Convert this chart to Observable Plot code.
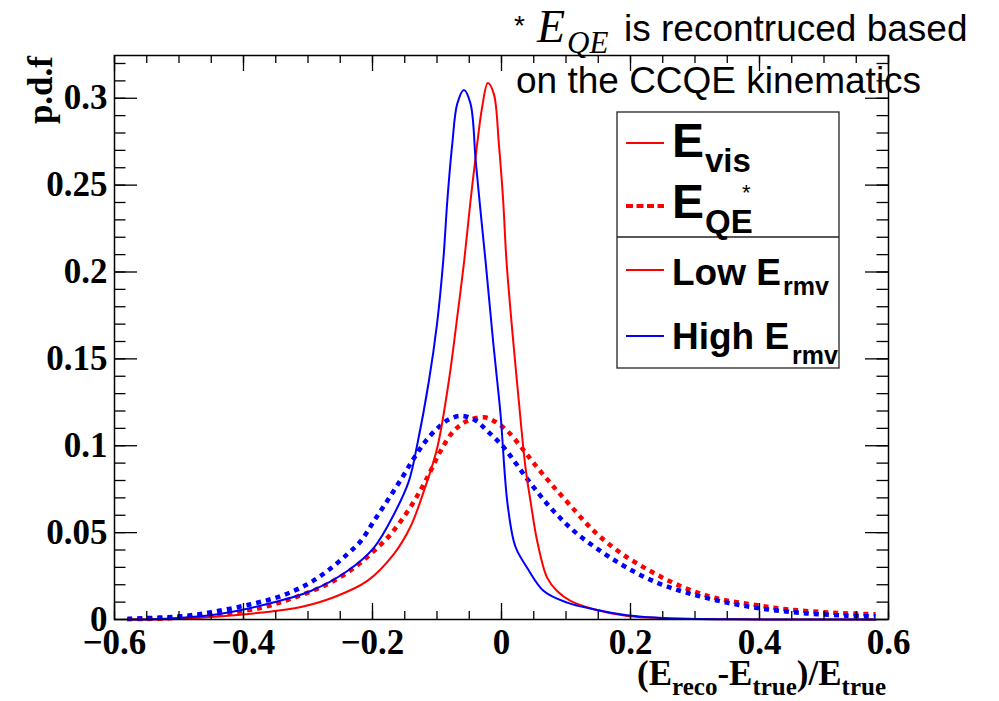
<!DOCTYPE html>
<html><head><meta charset="utf-8">
<script src="https://cdn.jsdelivr.net/npm/d3@7"></script>
<script src="https://cdn.jsdelivr.net/npm/@observablehq/plot@0.6"></script>
<style>
html,body{margin:0;padding:0;background:#fff;}
#chart{width:999px;height:701px;overflow:hidden;}
</style></head><body><div id="chart"></div>
<script>
// ---- data ----
const redSolidX = [-0.58,-0.517,-0.46,-0.414,-0.36,-0.311,-0.26,-0.208,-0.167,-0.141,-0.118,-0.0995,-0.0816,-0.07,-0.0578,-0.048,-0.0377,-0.030,-0.0212,-0.0119,-0.0041,0.0026,0.0077,0.017,0.0268,0.0372,0.0449,0.0553,0.0707,0.0862,0.107,0.143,0.195,0.257,0.36,0.58];
const redSolidY = [0.0,0.0002,0.0012,0.0025,0.0045,0.0072,0.0128,0.0222,0.0376,0.0535,0.0765,0.099,0.1374,0.17,0.2065,0.241,0.2737,0.2948,0.3088,0.3025,0.2737,0.241,0.2065,0.165,0.1259,0.0874,0.0683,0.0452,0.0241,0.0164,0.0107,0.0059,0.002,0.0007,0.0001,0.0];

const blueSolidX = [-0.58,-0.543,-0.49,-0.44,-0.3645,-0.2957,-0.239,-0.1977,-0.1667,-0.1435,-0.1305,-0.1125,-0.10,-0.0903,-0.084,-0.0763,-0.0686,-0.0583,-0.048,-0.040,-0.0325,-0.0248,-0.013,-0.0067,-0.0015,0.0088,0.019,0.0243,0.0397,0.0655,0.1017,0.143,0.1946,0.2565,0.36,0.58];
const blueSolidY = [0.0,0.0002,0.0012,0.0030,0.0088,0.0164,0.0279,0.0414,0.0606,0.0798,0.1009,0.1374,0.17,0.2065,0.241,0.2737,0.2968,0.3048,0.2968,0.264,0.235,0.2065,0.16,0.1374,0.1182,0.0683,0.045,0.0395,0.0298,0.0164,0.0097,0.0059,0.0024,0.0007,0.0001,0.0];

const blueDotX = [-0.58,-0.492,-0.44,-0.3885,-0.342,-0.301,-0.270,-0.239,-0.218,-0.1977,-0.177,-0.156,-0.138,-0.120,-0.0995,-0.08,-0.0609,-0.04,-0.0222,0.0036,0.0397,0.0759,0.112,0.153,0.1946,0.241,0.2874,0.3494,0.411,0.473,0.535,0.58];
const blueDotY = [0.0004,0.002,0.0049,0.0088,0.0135,0.0203,0.0279,0.0376,0.0452,0.0567,0.0683,0.0805,0.0915,0.1015,0.1100,0.1155,0.1172,0.1145,0.1086,0.099,0.081,0.0644,0.051,0.0395,0.0298,0.0212,0.0154,0.0097,0.0059,0.0035,0.0022,0.0018];

const redDotX = [-0.58,-0.5175,-0.44,-0.373,-0.3215,-0.270,-0.2286,-0.1977,-0.1718,-0.146,-0.1254,-0.1099,-0.0944,-0.0738,-0.0531,-0.0274,-0.0119,0.0088,0.032,0.05,0.0759,0.107,0.143,0.184,0.2307,0.277,0.329,0.385,0.442,0.514,0.58];
const redDotY = [0.0002,0.0007,0.003,0.0068,0.0126,0.0203,0.0298,0.0395,0.0491,0.062,0.0745,0.0855,0.0971,0.1086,0.1143,0.1164,0.1143,0.1086,0.0985,0.090,0.0785,0.0655,0.051,0.0385,0.0279,0.0193,0.0126,0.0088,0.0059,0.0039,0.003];

const xTickValues = [-0.6,-0.4,-0.2,0,0.2,0.4,0.6];
const xTickLabels = ["\u22120.6","\u22120.4","\u22120.2","0","0.2","0.4","0.6"];
const yTickValues = [0,0.05,0.1,0.15,0.2,0.25,0.3];
const yTickLabels = ["0","0.05","0.1","0.15","0.2","0.25","0.3"];
const xMinorValues = d3.range(-12, 13).map(i => +(i * 0.05).toFixed(2));
const yMinorValues = d3.range(0, 33).map(i => +(i * 0.01).toFixed(2));

const RED = "#ff0000", BLUE = "#0000ff";
const XMIN = -0.6, XMAX = 0.6, YMAX = 0.3246;
const W = 999, H = 701, ML = 114, MR = 111, MT = 55, MB = 82;
const pxX = (XMAX - XMIN) / (W - ML - MR);   // data per px (x)
const pxY = YMAX / (H - MT - MB);             // data per px (y)

const toRows = (xs, ys) => xs.map((x, i) => ({x, y: ys[i]}));
const serif = "'Liberation Serif','Times New Roman',serif";
const sans = "'Liberation Sans',Arial,Helvetica,sans-serif";

const xMajLen = 16 * pxY, xMinLen = 8 * pxY;
const yMajLen = 23 * pxX, yMinLen = 11.5 * pxX;
const DOT = "5,5";

const chart = Plot.plot({
  width: W, height: H,
  marginLeft: ML, marginRight: MR, marginTop: MT, marginBottom: MB,
  x: {domain: [XMIN, XMAX], axis: null},
  y: {domain: [0, YMAX], axis: null},
  style: {background: "white"},
  marks: [
    Plot.line(toRows(redDotX, redDotY), {x: "x", y: "y", stroke: RED, strokeWidth: 4.5, strokeDasharray: DOT, strokeLinecap: "butt", curve: "catmull-rom"}),
    Plot.line(toRows(blueDotX, blueDotY), {x: "x", y: "y", stroke: BLUE, strokeWidth: 4.5, strokeDasharray: DOT, strokeLinecap: "butt", curve: "catmull-rom"}),
    Plot.line(toRows(redSolidX, redSolidY), {x: "x", y: "y", stroke: RED, strokeWidth: 2, curve: "catmull-rom"}),
    Plot.line(toRows(blueSolidX, blueSolidY), {x: "x", y: "y", stroke: BLUE, strokeWidth: 2, curve: "catmull-rom"}),
    // ticks (inward, all four sides)
    Plot.ruleX(xMinorValues, {x: d => d, y1: 0, y2: xMinLen, stroke: "black", strokeWidth: 1.3}),
    Plot.ruleX(xMinorValues, {x: d => d, y1: YMAX, y2: YMAX - xMinLen, stroke: "black", strokeWidth: 1.3}),
    Plot.ruleX(xTickValues, {x: d => d, y1: 0, y2: xMajLen, stroke: "black", strokeWidth: 1.3}),
    Plot.ruleX(xTickValues, {x: d => d, y1: YMAX, y2: YMAX - xMajLen, stroke: "black", strokeWidth: 1.3}),
    Plot.ruleY(yMinorValues, {y: d => d, x1: XMIN, x2: XMIN + yMinLen, stroke: "black", strokeWidth: 1.3}),
    Plot.ruleY(yMinorValues, {y: d => d, x1: XMAX, x2: XMAX - yMinLen, stroke: "black", strokeWidth: 1.3}),
    Plot.ruleY(yTickValues, {y: d => d, x1: XMIN, x2: XMIN + yMajLen, stroke: "black", strokeWidth: 1.3}),
    Plot.ruleY(yTickValues, {y: d => d, x1: XMAX, x2: XMAX - yMajLen, stroke: "black", strokeWidth: 1.3}),
    Plot.frame({stroke: "black", strokeWidth: 1.5}),
    // tick labels
    Plot.text(xTickValues, {x: d => d, y: 0, text: (d, i) => xTickLabels[i], dy: 23, fontSize: 35, fontWeight: "bold", fontFamily: serif, fill: "black"}),
    Plot.text(yTickValues, {x: XMIN, y: d => d, text: (d, i) => yTickLabels[i], dx: -7, textAnchor: "end", fontSize: 35, fontWeight: "bold", fontFamily: serif, fill: "black"})
  ]
});
document.getElementById("chart").appendChild(chart);

const svg = d3.select(chart);
const g = svg.append("g").attr("class", "annotations").attr("text-anchor", "start");

// axis titles
const xt = g.append("text").attr("x", 886).attr("y", 685).attr("text-anchor", "end")
  .style("font-family", serif).style("font-weight", "bold").style("font-size", "35px").attr("fill", "black");
xt.append("tspan").text("(E");
xt.append("tspan").text("reco").attr("dy", 10).style("font-size", "25px");
xt.append("tspan").text("-E").attr("dy", -10);
xt.append("tspan").text("true").attr("dy", 10).style("font-size", "25px");
xt.append("tspan").text(")/E").attr("dy", -10);
xt.append("tspan").text("true").attr("dy", 10).style("font-size", "25px");

g.append("text").attr("transform", "translate(52,56) rotate(-90)").attr("text-anchor", "end")
  .style("font-family", serif).style("font-weight", "bold").style("font-size", "35px").attr("fill", "black").text("p.d.f");

// top annotation
g.append("text").attr("x", 514).attr("y", 35).style("font-family", sans).style("font-size", "28px").text("*");
g.append("text").attr("x", 537).attr("y", 42).style("font-family", serif).style("font-style", "italic").style("font-size", "46px").text("E");
g.append("text").attr("x", 567).attr("y", 53).style("font-family", serif).style("font-style", "italic").style("font-size", "31px").text("QE");
g.append("text").attr("x", 624).attr("y", 41).style("font-family", sans).style("font-size", "37px").text("is recontruced based");
g.append("text").attr("x", 516).attr("y", 93).style("font-family", sans).style("font-size", "37px").text("on the CCQE kinematics");

// legend
const lg = g.append("g");
lg.append("rect").attr("x", 617).attr("y", 112).attr("width", 222).attr("height", 256)
  .attr("fill", "white").attr("stroke", "#222").attr("stroke-width", 1.3);
lg.append("line").attr("x1", 617).attr("x2", 839).attr("y1", 237).attr("y2", 237).attr("stroke", "#222").attr("stroke-width", 1.3);
const sw = (y, color, dash) => {
  const l = lg.append("line").attr("x1", 626).attr("x2", 664).attr("y1", y).attr("y2", y)
    .attr("stroke", color).attr("stroke-width", dash ? 4 : 2);
  if (dash) l.attr("stroke-dasharray", "7,3.5");
};
sw(143, RED, false);
sw(206, RED, true);
sw(270, RED, false);
sw(336, BLUE, false);
const ltxt = (x, y, size, s) => lg.append("text").attr("x", x).attr("y", y)
  .style("font-family", sans).style("font-weight", "bold").style("font-size", size + "px").attr("fill", "black").text(s);
ltxt(672, 157, 48, "E");
ltxt(705, 172, 33, "vis");
ltxt(672, 218, 48, "E");
ltxt(705, 233, 33, "QE");
ltxt(742, 200, 22, "*").style("font-weight", "normal");
ltxt(672, 285, 37, "Low E");
ltxt(783, 295, 25, "rmv");
ltxt(672, 349, 37, "High E");
ltxt(792, 364, 25, "rmv");
</script></body></html>
